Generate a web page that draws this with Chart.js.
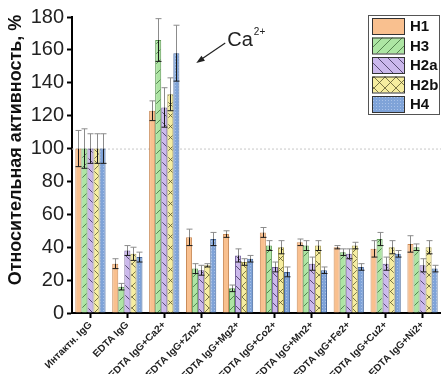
<!DOCTYPE html>
<html>
<head>
<meta charset="utf-8">
<script src="https://cdn.jsdelivr.net/npm/chart.js@4"></script>
<style>
  html, body { margin: 0; padding: 0; background: #fff; }
  #wrap { width: 441px; height: 374px; }
</style>
</head>
<body>
<div id="wrap"><canvas id="chart"></canvas></div>
<script>
// categories and series (% of intact IgG activity)
const categories = ['Интактн. IgG', 'EDTA IgG', 'EDTA IgG+Ca2+', 'EDTA IgG+Zn2+', 'EDTA IgG+Mg2+',
  'EDTA IgG+Co2+', 'EDTA IgG+Mn2+', 'EDTA IgG+Fe2+', 'EDTA IgG+Cu2+', 'EDTA IgG+Ni2+'];
const seriesNames = ['H1', 'H3', 'H2a', 'H2b', 'H4'];

const valuesH1  = [100, 30, 123, 46, 48, 49, 43, 40, 39, 42];
const valuesH3  = [100, 16, 166, 27, 15, 41, 41, 37, 45, 40];
const valuesH2a = [100, 38, 125, 26, 35, 28, 30, 36, 30, 29];
const valuesH2b = [100, 36, 133, 29, 31, 40, 41, 41, 40, 40];
const valuesH4  = [100, 34, 158, 45, 33, 25, 26, 28, 36, 27];

const errorsH1  = [11, 3, 6, 5, 2, 3, 2, 1, 5, 5];
const errorsH3  = [12, 2, 13, 3, 2, 3, 3, 2, 4, 2];
const errorsH2a = [9, 3, 12, 3, 4, 3, 4, 3, 4, 4];
const errorsH2b = [9, 4, 10, 1, 2, 4, 3, 2, 4, 4];
const errorsH4  = [9, 3, 17, 4, 2, 3, 2, 2, 2, 2];

const yTicks = [0, 20, 40, 60, 80, 100, 120, 140, 160, 180];

const FONT = 'Arial, "Liberation Sans", sans-serif';

/**
 * Fill pattern for bars (plain, hatches, dots)
 */
function makePattern(bg, kind, ink) {
  const S = kind === 'cross' ? 11 : (kind === 'dots' ? 3 : 10);
  const c = document.createElement('canvas');
  c.width = S; c.height = S;
  const g = c.getContext('2d');
  g.fillStyle = bg;
  g.fillRect(0, 0, S, S);
  g.strokeStyle = ink;
  g.lineWidth = 0.8;
  const fwd = () => {
    g.beginPath();
    g.moveTo(-1, S + 1); g.lineTo(S + 1, -1);
    g.moveTo(-2, 2); g.lineTo(2, -2);
    g.moveTo(S - 2, S + 2); g.lineTo(S + 2, S - 2);
    g.stroke();
  };
  const back = () => {
    g.beginPath();
    g.moveTo(-1, -1); g.lineTo(S + 1, S + 1);
    g.moveTo(-2, S - 2); g.lineTo(2, S + 2);
    g.moveTo(S - 2, -2); g.lineTo(S + 2, 2);
    g.stroke();
  };
  if (kind === 'fwd') fwd();
  if (kind === 'back') back();
  if (kind === 'cross') { fwd(); back(); }
  if (kind === 'dots') {
    g.fillStyle = ink;
    g.fillRect(1, 1, 1, 1);
  }
  return g.createPattern(c, 'repeat');
}

const fills = [
  makePattern('#f9c08f', 'none', '#000'),
  makePattern('#ade5a3', 'fwd', '#3f6b3a'),
  makePattern('#cbb8ec', 'back', '#3a2f55'),
  makePattern('#f6ed9f', 'cross', '#5a5530'),
  makePattern('#7fa3d8', 'dots', '#a9c2e8')
];
const borders = ['#c98a57', '#5e9a55', '#76639e', '#a69c55', '#4a6a9c'];
const allValues = [valuesH1, valuesH3, valuesH2a, valuesH2b, valuesH4];
const allErrors = [errorsH1, errorsH3, errorsH2a, errorsH2b, errorsH4];

const datasets = seriesNames.map((name, i) => ({
  label: name,
  data: allValues[i],
  errors: allErrors[i],
  backgroundColor: fills[i],
  borderColor: borders[i],
  borderWidth: 1,
  borderSkipped: 'bottom',
  barPercentage: 1.0,
  categoryPercentage: 0.82
}));

// dotted 100% reference line
const refLinePlugin = {
  id: 'refLine',
  beforeDatasetsDraw(chart) {
    const { ctx, chartArea, scales } = chart;
    const y = scales.y.getPixelForValue(100);
    ctx.save();
    ctx.strokeStyle = '#c8c8c8';
    ctx.lineWidth = 1;
    ctx.setLineDash([2, 2]);
    ctx.beginPath();
    ctx.moveTo(chartArea.left, y + 0.5);
    ctx.lineTo(chartArea.right, y + 0.5);
    ctx.stroke();
    ctx.restore();
  }
};

// error bars: grey above the bar top, dark inside the bar
const errorBarPlugin = {
  id: 'errorBars',
  afterDatasetsDraw(chart) {
    const { ctx, scales } = chart;
    chart.data.datasets.forEach((ds, i) => {
      const meta = chart.getDatasetMeta(i);
      meta.data.forEach((bar, j) => {
        const v = ds.data[j];
        const e = ds.errors[j];
        if (!e) return;
        const x = Math.round(bar.x) + 0.5;
        const yv = scales.y.getPixelForValue(v);
        const yt = scales.y.getPixelForValue(v + e);
        const yb = scales.y.getPixelForValue(v - e);
        const cap = 3;
        ctx.save();
        ctx.lineWidth = 1;
        ctx.strokeStyle = '#8c8c8c';
        ctx.beginPath();
        ctx.moveTo(x, yv); ctx.lineTo(x, yt);
        ctx.moveTo(x - cap, yt); ctx.lineTo(x + cap, yt);
        ctx.stroke();
        ctx.strokeStyle = '#1a1a1a';
        ctx.beginPath();
        ctx.moveTo(x, yv); ctx.lineTo(x, yb);
        ctx.moveTo(x - cap, yb); ctx.lineTo(x + cap, yb);
        ctx.stroke();
        ctx.restore();
      });
    });
  }
};

// legend box, y title and Ca2+ annotation
const decorPlugin = {
  id: 'decor',
  afterDraw(chart) {
    const { ctx, chartArea, scales } = chart;

    // y axis title
    ctx.save();
    ctx.translate(16, 150);
    ctx.rotate(-Math.PI / 2);
    ctx.font = 'bold 18px ' + FONT;
    ctx.fillStyle = '#111';
    ctx.textAlign = 'center';
    ctx.textBaseline = 'middle';
    ctx.fillText('Относительная активность, %', 0, 0);
    ctx.restore();

    // legend
    const bx = chartArea.right - 73, by = chartArea.top - 2, bw = 72, bh = 100;
    ctx.save();
    ctx.fillStyle = '#fff';
    ctx.fillRect(bx, by, bw, bh);
    ctx.strokeStyle = '#555';
    ctx.lineWidth = 1;
    ctx.strokeRect(bx + 0.5, by + 0.5, bw - 1, bh - 1);
    chart.data.datasets.forEach((ds, i) => {
      const ry = by + 3 + i * 19.5;
      ctx.fillStyle = ds.backgroundColor;
      ctx.fillRect(bx + 4, ry, 32, 16);
      ctx.strokeStyle = '#333';
      ctx.strokeRect(bx + 4.5, ry + 0.5, 32, 16);
      ctx.fillStyle = '#111';
      ctx.font = 'bold 15px ' + FONT;
      ctx.textBaseline = 'middle';
      ctx.textAlign = 'left';
      ctx.fillText(ds.label, bx + 42, ry + 9);
    });
    ctx.restore();

    // Ca2+ arrow annotation
    const tipX = scales.x.getPixelForValue(2) + 32;
    const tipY = scales.y.getPixelForValue(152);
    ctx.save();
    ctx.strokeStyle = '#222';
    ctx.fillStyle = '#222';
    ctx.lineWidth = 1.2;
    const tx = tipX + 29, ty = tipY - 20;
    ctx.beginPath();
    ctx.moveTo(tx, ty); ctx.lineTo(tipX + 4, tipY - 3);
    ctx.stroke();
    const a = Math.atan2(tipY - ty, tipX - tx);
    ctx.beginPath();
    ctx.moveTo(tipX, tipY);
    ctx.lineTo(tipX - 9 * Math.cos(a - 0.35), tipY - 9 * Math.sin(a - 0.35));
    ctx.lineTo(tipX - 9 * Math.cos(a + 0.35), tipY - 9 * Math.sin(a + 0.35));
    ctx.closePath();
    ctx.fill();
    ctx.font = '20px ' + FONT;
    ctx.textBaseline = 'alphabetic';
    ctx.textAlign = 'left';
    ctx.fillText('Ca', tx + 2, ty + 3);
    const w = ctx.measureText('Ca').width;
    ctx.font = '10px ' + FONT;
    ctx.fillText('2+', tx + 3 + w, ty - 8);
    ctx.restore();
  }
};

const ctx = document.getElementById('chart').getContext('2d');

new Chart(ctx, {
  type: 'bar',
  data: { labels: categories, datasets: datasets },
  options: {
    responsive: true,
    maintainAspectRatio: false,
    animation: false,
    layout: { padding: { top: 17, left: 0, right: 0, bottom: 0 } },
    plugins: {
      legend: { display: false },
      tooltip: { enabled: false }
    },
    scales: {
      x: {
        afterFit: function(scale) { scale.height = 61; },
        border: { display: true, color: '#000', width: 2 },
        grid: {
          offset: false,
          drawOnChartArea: false,
          drawTicks: true,
          tickLength: 5,
          tickWidth: 2,
          tickColor: '#000'
        },
        ticks: {
          autoSkip: false,
          minRotation: 45,
          maxRotation: 45,
          padding: 1,
          color: '#222',
          font: { size: 10, weight: 'bold', family: FONT }
        }
      },
      y: {
        min: 0,
        max: 180,
        afterFit: function(scale) { scale.width = 72; },
        border: { display: true, color: '#000', width: 2 },
        grid: {
          drawOnChartArea: false,
          drawTicks: true,
          tickLength: 5,
          tickWidth: 2,
          tickColor: '#000'
        },
        ticks: {
          stepSize: 10,
          padding: 3,
          color: '#222',
          font: { size: 20, family: FONT },
          callback: function(value) {
            return yTicks.includes(value) ? String(value) : '';
          }
        }
      }
    }
  },
  plugins: [refLinePlugin, errorBarPlugin, decorPlugin]
});
</script>
</body>
</html>
